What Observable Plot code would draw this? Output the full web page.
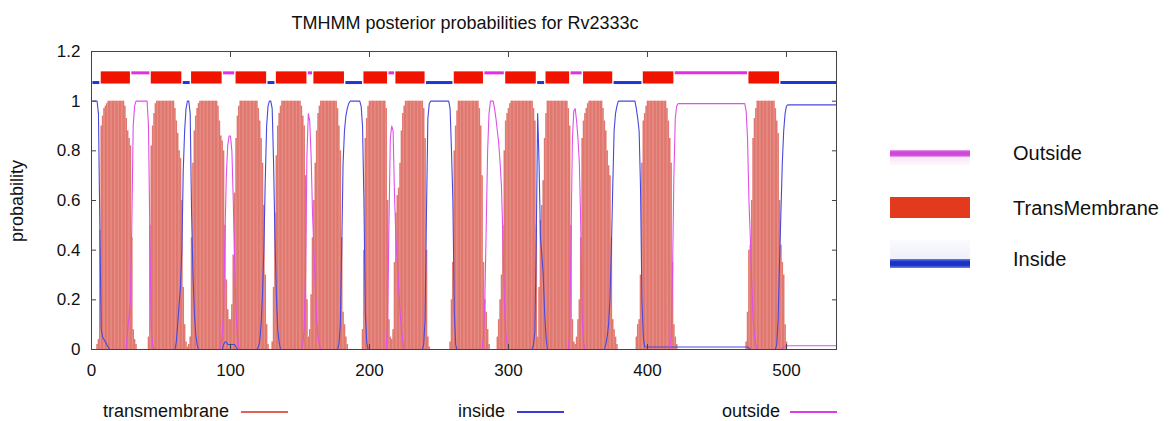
<!DOCTYPE html>
<html>
<head>
<meta charset="utf-8">
<script src="https://cdn.jsdelivr.net/npm/d3@7"></script>
<script src="https://cdn.jsdelivr.net/npm/@observablehq/plot@0.6"></script>
<style>
  html, body { margin: 0; padding: 0; background: #fff; }
  body { font-family: "Liberation Sans", Arial, Helvetica, sans-serif; color: #111; }
  #wrap { position: relative; width: 1171px; height: 421px; overflow: hidden; }
  #chart { position: absolute; left: 0; top: 0; }
  .t { position: absolute; white-space: nowrap; line-height: 1; color: #111; }
  .sw { position: absolute; }
</style>
</head>
<body>
<div id="wrap">
  <div id="chart"></div>
</div>
<script>
// ---------------- data ----------------
const chartTitle = "TMHMM posterior probabilities for Rv2333c";
const yAxisLabel = "probability";
const seqLength = 536;

const xTicks = [0, 100, 200, 300, 400, 500];
const yTicks = [0, 0.2, 0.4, 0.6, 0.8, 1, 1.2];
const yTickLabels = ["0", "0.2", "0.4", "0.6", "0.8", "1", "1.2"];

// predicted topology (top bar)
const segType  = ["inside","TM","outside","TM","inside","TM","outside","TM","inside","TM","outside","TM","inside","TM","outside","TM","inside","TM","outside","TM","inside","TM","outside","TM","inside","TM","outside","TM","inside"];
const segStart = [1, 7, 29, 43, 66, 72, 95, 104, 127, 133, 156, 160, 183, 196, 214, 219, 241, 261, 283, 298, 321, 327, 345, 354, 376, 397, 420, 473, 496];
const segEnd   = [6, 28, 42, 65, 71, 94, 103, 126, 132, 155, 159, 182, 195, 213, 218, 240, 260, 282, 297, 320, 326, 344, 353, 375, 396, 419, 472, 495, 536];

const topoLegend = ["Outside", "TransMembrane", "Inside"];
const seriesLegend = ["transmembrane", "inside", "outside"];

// posterior probabilities per residue (1..536)
const tmProb = [
0,0,0,0.02,0.04,0.48,0.9,0.94,0.97,0.98,          // 1
0.99,1,1,1,1,1,1,1,1,1,                            // 11
1,1,1,0.98,0.93,0.88,0.85,0.82,0.45,0.08,          // 21
0.04,0.02,0,0,0,0,0,0,0,0,                         // 31
0.05,0.5,0.82,0.9,0.95,0.99,1,1,1,1,               // 41
1,1,1,1,1,1,1,1,1,0.97,                            // 51
0.92,0.87,0.8,0.77,0.6,0.25,0.1,0.03,0.01,0.02,    // 61
0.05,0.45,0.75,0.88,0.94,0.97,0.99,1,1,1,          // 71
1,1,1,1,1,1,1,1,1,1,                               // 81
0.98,0.92,0.86,0.84,0.8,0.5,0.28,0.16,0.12,0.12,   // 91
0.18,0.38,0.63,0.85,0.94,0.98,1,1,1,1,             // 101
1,1,1,1,1,1,1,1,1,0.97,                            // 111
0.92,0.85,0.75,0.58,0.3,0.1,0.02,0,0,0.03,         // 121
0.25,0.55,0.78,0.9,0.95,0.98,1,1,1,1,              // 131
1,1,1,1,1,1,1,1,1,1,                               // 141
0.98,0.94,0.9,0.7,0.2,0.05,0.08,0.22,0.45,0.6,     // 151
0.75,0.88,0.95,0.98,1,1,1,1,1,1,                   // 161
1,1,1,1,1,1,0.97,0.9,0.8,0.45,                     // 171
0.15,0.1,0.05,0.02,0,0,0,0,0,0,                    // 181
0,0,0,0,0.08,0.4,0.85,0.93,0.98,1,                 // 191
1,1,1,1,1,1,1,1,1,1,                               // 201
1,0.97,0.6,0.12,0.05,0.04,0.08,0.35,0.55,0.62,     // 211
0.65,0.75,0.88,0.95,0.98,1,1,1,1,1,                // 221
1,1,1,1,1,1,1,1,0.97,0.85,                         // 231
0.4,0.05,0.01,0,0,0,0,0,0,0,                       // 241
0,0,0,0,0,0,0,0.03,0.2,0.35,                       // 251
0.8,0.9,0.96,1,1,1,1,1,1,1,                        // 261
1,1,1,1,1,1,1,1,0.97,0.9,                          // 271
0.7,0.35,0.2,0.15,0.08,0.02,0,0,0,0,               // 281
0,0.05,0.12,0.2,0.3,0.5,0.8,0.92,0.95,0.97,        // 291
0.99,1,1,1,1,1,1,1,1,1,                            // 301
1,1,1,1,1,1,1,0.97,0.92,0.5,                       // 311
0.05,0.25,0.52,0.58,0.68,0.85,0.95,1,1,1,          // 321
1,1,1,1,1,1,1,1,1,1,                               // 331
1,1,0.97,0.9,0.5,0.12,0.03,0.02,0.05,0.12,         // 341
0.2,0.45,0.85,0.92,0.95,0.97,0.99,1,1,1,           // 351
1,1,1,1,1,1,1,0.97,0.92,0.88,                      // 361
0.8,0.74,0.7,0.45,0.12,0.08,0.05,0.02,0,0,         // 371
0,0,0,0,0,0,0,0,0,0,                               // 381
0,0.05,0.1,0.12,0.3,0.75,0.92,0.95,0.98,1,         // 391
1,1,1,1,1,1,1,1,1,1,                               // 401
1,1,1,0.97,0.92,0.85,0.75,0.35,0.1,0.05,           // 411
0.02,0,0,0,0,0,0,0,0,0,                            // 421
0,0,0,0,0,0,0,0,0,0,                               // 431
0,0,0,0,0,0,0,0,0,0,                               // 441
0,0,0,0,0,0,0,0,0,0,                               // 451
0,0,0,0,0,0,0,0,0,0,                               // 461
0.03,0.15,0.4,0.42,0.6,0.85,0.93,0.97,1,1,         // 471
1,1,1,1,1,1,1,1,1,1,                               // 481
1,0.97,0.92,0.87,0.6,0.42,0.35,0.3,0.1,0.03,       // 491
0,0,0,0,0,0,0,0,0,0,                               // 501
0,0,0,0,0,0,0,0,0,0,                               // 511
0,0,0,0,0,0,0,0,0,0,                               // 521
0,0,0,0,0,0                                        // 531
];

const insideProb = [
1,1,1,1,0.95,0.5,0.08,0.05,0.04,0.03,              // 1
0.02,0.01,0,0,0,0,0,0,0,0,                         // 11
0,0,0,0,0,0,0,0,0,0,                               // 21
0,0,0,0,0,0,0,0,0,0,                               // 31
0,0,0,0,0,0,0,0,0,0,                               // 41
0,0,0,0,0,0,0,0,0,0,                               // 51
0.03,0.1,0.18,0.25,0.4,0.72,0.88,0.97,1,1,         // 61
0.95,0.55,0.3,0.15,0.06,0.02,0,0,0,0,              // 71
0,0,0,0,0,0,0,0,0,0,                               // 81
0,0,0,0,0.02,0.03,0.03,0.02,0.02,0.02,             // 91
0.02,0.02,0.02,0.01,0,0,0,0,0,0,                   // 101
0,0,0,0,0,0,0,0,0,0.01,                            // 111
0.03,0.1,0.22,0.4,0.68,0.9,0.98,1,1,0.97,          // 121
0.75,0.45,0.22,0.08,0.03,0,0,0,0,0,                // 131
0,0,0,0,0,0,0,0,0,0,                               // 141
0,0,0,0,0,0,0,0,0,0,                               // 151
0,0,0,0,0,0,0,0,0,0,                               // 161
0,0,0,0,0,0,0,0.02,0.1,0.4,                        // 171
0.75,0.88,0.94,0.97,0.99,1,1,1,1,1,                // 181
1,1,1,0.98,0.9,0.6,0.15,0.03,0,0,                  // 191
0,0,0,0,0,0,0,0,0,0,                               // 201
0,0,0,0,0,0,0,0,0,0,                               // 211
0,0,0,0,0,0,0,0,0,0,                               // 221
0,0,0,0,0,0,0,0,0.02,0.12,                         // 231
0.55,0.93,0.99,1,1,1,1,1,1,1,                      // 241
1,1,1,1,1,1,1,0.97,0.8,0.6,                        // 251
0.15,0.02,0,0,0,0,0,0,0,0,                         // 261
0,0,0,0,0,0,0,0,0,0,                               // 271
0,0,0,0,0,0,0,0,0,0,                               // 281
0,0,0,0,0,0,0,0,0,0,                               // 291
0,0,0,0,0,0,0,0,0,0,                               // 301
0,0,0,0,0,0,0,0.02,0.07,0.45,                      // 311
0.95,0.75,0.45,0.38,0.3,0.15,0.05,0,0,0,           // 321
0,0,0,0,0,0,0,0,0,0,                               // 331
0,0,0,0,0,0,0,0,0,0,                               // 341
0,0,0,0,0,0,0,0,0,0,                               // 351
0,0,0,0,0,0,0,0,0,0.02,                            // 361
0.05,0.1,0.2,0.4,0.65,0.88,0.95,0.98,1,1,          // 371
1,1,1,1,1,1,1,1,1,1,                               // 381
1,0.97,0.93,0.88,0.65,0.2,0.05,0.01,0.01,0.01,     // 391
0.01,0.01,0.01,0.01,0.01,0.01,0.01,0.01,0.01,0.01, // 401
0.01,0.01,0.01,0.01,0.01,0.01,0.01,0.01,0.01,0.01, // 411
0.01,0.01,0.01,0.01,0.01,0.01,0.01,0.01,0.01,0.01, // 421
0.01,0.01,0.01,0.01,0.01,0.01,0.01,0.01,0.01,0.01, // 431
0.01,0.01,0.01,0.01,0.01,0.01,0.01,0.01,0.01,0.01, // 441
0.01,0.01,0.01,0.01,0.01,0.01,0.01,0.01,0.01,0.01, // 451
0.01,0.01,0.01,0.01,0.01,0.01,0.01,0.01,0.01,0.01, // 461
0.01,0.01,0.005,0,0,0,0,0,0,0,                     // 471
0,0,0,0,0,0,0,0,0,0,                               // 481
0,0,0.02,0.12,0.35,0.55,0.75,0.88,0.95,0.98,       // 491
0.985,0.985,0.985,0.985,0.985,0.985,0.985,0.985,0.985,0.985, // 501
0.985,0.985,0.985,0.985,0.985,0.985,0.985,0.985,0.985,0.985, // 511
0.985,0.985,0.985,0.985,0.985,0.985,0.985,0.985,0.985,0.985, // 521
0.985,0.985,0.985,0.985,0.985,0.985                // 531
];

const outsideProb = [
0,0,0,0,0,0,0,0,0,0,                               // 1
0,0,0,0,0,0,0,0,0,0,                               // 11
0,0,0,0,0,0.08,0.13,0.2,0.5,0.9,                   // 21
0.98,1,1,1,1,1,1,1,1,1,                            // 31
0.9,0.45,0.08,0.02,0,0,0,0,0,0,                    // 41
0,0,0,0,0,0,0,0,0,0,                               // 51
0,0,0,0,0,0,0,0,0,0,                               // 61
0,0,0,0,0,0,0,0,0,0,                               // 71
0,0,0,0,0,0,0,0,0,0,                               // 81
0,0,0.02,0.05,0.15,0.45,0.7,0.82,0.86,0.86,        // 91
0.8,0.6,0.35,0.15,0.05,0.01,0,0,0,0,               // 101
0,0,0,0,0,0,0,0,0,0,                               // 111
0,0,0,0,0,0,0,0,0,0,                               // 121
0,0,0,0,0,0,0,0,0,0,                               // 131
0,0,0,0,0,0,0,0,0,0,                               // 141
0,0.02,0.08,0.3,0.78,0.95,0.92,0.78,0.55,0.4,      // 151
0.25,0.12,0.05,0.02,0,0,0,0,0,0,                   // 161
0,0,0,0,0,0,0,0,0,0,                               // 171
0,0,0,0,0,0,0,0,0,0,                               // 181
0,0,0,0,0,0,0,0,0,0,                               // 191
0,0,0,0,0,0,0,0,0,0,                               // 201
0,0,0.1,0.5,0.85,0.9,0.88,0.62,0.45,0.35,          // 211
0.25,0.15,0.08,0.03,0,0,0,0,0,0,                   // 221
0,0,0,0,0,0,0,0,0,0,                               // 231
0,0,0,0,0,0,0,0,0,0,                               // 241
0,0,0,0,0,0,0,0,0,0,                               // 251
0,0,0,0,0,0,0,0,0,0,                               // 261
0,0,0,0,0,0,0,0,0,0,                               // 271
0,0.05,0.2,0.5,0.8,0.95,1,1,1,0.97,                // 281
0.93,0.88,0.83,0.75,0.65,0.45,0.2,0.07,0.02,0,     // 291
0,0,0,0,0,0,0,0,0,0,                               // 301
0,0,0,0,0,0,0,0,0,0,                               // 311
0,0,0,0,0,0,0,0,0,0,                               // 321
0,0,0,0,0,0,0,0,0,0,                               // 331
0,0,0,0.05,0.45,0.85,0.96,0.97,0.92,0.85,          // 341
0.75,0.5,0.12,0.03,0,0,0,0,0,0,                    // 351
0,0,0,0,0,0,0,0,0,0,                               // 361
0,0,0,0,0,0,0,0,0,0,                               // 371
0,0,0,0,0,0,0,0,0,0,                               // 381
0,0,0,0,0,0,0,0,0,0,                               // 391
0,0,0,0,0,0,0,0,0,0,                               // 401
0,0,0,0,0,0,0.05,0.3,0.7,0.93,                     // 411
0.98,0.99,0.99,0.99,0.99,0.99,0.99,0.99,0.99,0.99, // 421
0.99,0.99,0.99,0.99,0.99,0.99,0.99,0.99,0.99,0.99, // 431
0.99,0.99,0.99,0.99,0.99,0.99,0.99,0.99,0.99,0.99, // 441
0.99,0.99,0.99,0.99,0.99,0.99,0.99,0.99,0.99,0.99, // 451
0.99,0.99,0.99,0.99,0.99,0.99,0.99,0.99,0.99,0.99, // 461
0.96,0.85,0.6,0.45,0.28,0.12,0.05,0.02,0,0,        // 471
0,0,0,0,0,0,0,0,0,0,                               // 481
0,0,0,0,0,0,0.005,0.01,0.012,0.015,                // 491
0.015,0.015,0.015,0.015,0.015,0.015,0.015,0.015,0.015,0.015, // 501
0.015,0.015,0.015,0.015,0.015,0.015,0.015,0.015,0.015,0.015, // 511
0.015,0.015,0.015,0.015,0.015,0.015,0.015,0.015,0.015,0.015, // 521
0.015,0.015,0.015,0.015,0.015,0.015                // 531
];

// ---------------- build ----------------
const rows = tmProb.map((v, i) => ({
  r: i + 1, tm: v, inside: insideProb[i], outside: outsideProb[i]
}));
const segs = segStart.map((s, i) => ({ start: s, end: segEnd[i], type: segType[i] }));

const C = {
  tm: "#e0786f", inLine: "#4848de", outLine: "#e050e8",
  tmBox: "#f01400", inBar: "#1d36d6", outBar: "#e030e0",
  frame: "#444"
};
const FONT = '"Liberation Sans", Arial, Helvetica, sans-serif';

const chart = Plot.plot({
  width: 1171,
  height: 421,
  marginLeft: 91,
  marginRight: 335,
  marginTop: 51,
  marginBottom: 72,
  x: { domain: [0, seqLength] },
  y: { domain: [0, 1.2] },
  style: { fontFamily: FONT, fontSize: "17px", color: "#111", background: "transparent", overflow: "visible" },
  marks: [
    Plot.ruleX(rows, { x: "r", y1: 0, y2: "tm", stroke: C.tm, strokeWidth: 1.6 }),
    Plot.line(rows, { x: "r", y: "inside", stroke: C.inLine, strokeWidth: 1.1 }),
    Plot.line(rows, { x: "r", y: "outside", stroke: C.outLine, strokeWidth: 1.1 }),
    Plot.rect(segs.filter(d => d.type === "TM"), { x1: "start", x2: "end", y1: 1.069, y2: 1.118, fill: C.tmBox }),
    Plot.ruleY(segs.filter(d => d.type === "inside"), { x1: "start", x2: "end", y: 1.075, stroke: C.inBar, strokeWidth: 3 }),
    Plot.ruleY(segs.filter(d => d.type === "outside"), { x1: "start", x2: "end", y: 1.114, stroke: C.outBar, strokeWidth: 3 }),
    Plot.frame({ stroke: C.frame }),
    Plot.axisY({ anchor: "left", ticks: yTicks, tickSize: 0, tickPadding: 11, label: null,
                 tickFormat: d => yTickLabels[yTicks.indexOf(d)] }),
    Plot.axisX({ anchor: "bottom", ticks: xTicks, tickSize: 0, tickPadding: 14, label: null,
                 tickFormat: d => String(d) }),
    Plot.axisY({ anchor: "left", ticks: yTicks, tickSize: -5, stroke: C.frame, tickFormat: () => "", label: null }),
    Plot.axisY({ anchor: "right", ticks: yTicks, tickSize: -5, stroke: C.frame, tickFormat: () => "", label: null }),
    Plot.axisX({ anchor: "bottom", ticks: xTicks, tickSize: -5, stroke: C.frame, tickFormat: () => "", label: null }),
    Plot.axisX({ anchor: "top", ticks: xTicks, tickSize: -5, stroke: C.frame, tickFormat: () => "", label: null })
  ]
});
document.getElementById("chart").appendChild(chart);

const wrap = document.getElementById("wrap");
function addText(txt, left, top, size, extra) {
  const d = document.createElement("div");
  d.className = "t";
  d.textContent = txt;
  d.style.left = left + "px";
  d.style.top = top + "px";
  d.style.fontSize = size + "px";
  if (extra) Object.assign(d.style, extra);
  wrap.appendChild(d);
  return d;
}
function addBox(left, top, w, h, bg) {
  const d = document.createElement("div");
  d.className = "sw";
  Object.assign(d.style, { left: left + "px", top: top + "px", width: w + "px", height: h + "px", background: bg });
  wrap.appendChild(d);
  return d;
}

// title
addText(chartTitle, 0, 14, 18, { width: "930px", textAlign: "center" });
// y label
addText(yAxisLabel, 17, 201, 18, { transform: "translate(-50%,-50%) rotate(-90deg)" });

// right legend (topology)
addBox(890, 150, 80, 7, "linear-gradient(#e7a6ec, #cf48d8 25%, #cf48d8 75%, #e9b3ee)");
addBox(890, 157, 80, 8, "linear-gradient(#f6e7f7, #fdf8fd)");
addText(topoLegend[0], 1013, 143, 20);
addBox(890, 197, 80, 21, "#e23a1c");
addText(topoLegend[1], 1013, 198, 20);
addBox(890, 240, 80, 19, "linear-gradient(#fbfbfe, #eef0fb)");
addBox(890, 259, 80, 9, "linear-gradient(#6f7fe0, #1a32c8 30%, #1a32c8 70%, #7b86de)");
addText(topoLegend[2], 1013, 249, 20);

// bottom legend (series)
addText(seriesLegend[0], 103, 402, 18);
addBox(241, 411, 47, 1.5, "#e0615a");
addText(seriesLegend[1], 458, 402, 18);
addBox(517, 411, 47, 1.5, "#3a3ad8");
addText(seriesLegend[2], 722, 402, 18);
addBox(790, 411, 47, 1.5, "#dc3ce4");

if (tmProb.length !== seqLength || insideProb.length !== seqLength || outsideProb.length !== seqLength) {
  addText("LEN " + tmProb.length + " " + insideProb.length + " " + outsideProb.length, 900, 330, 14, { color: "red" });
}
</script>
</body>
</html>
